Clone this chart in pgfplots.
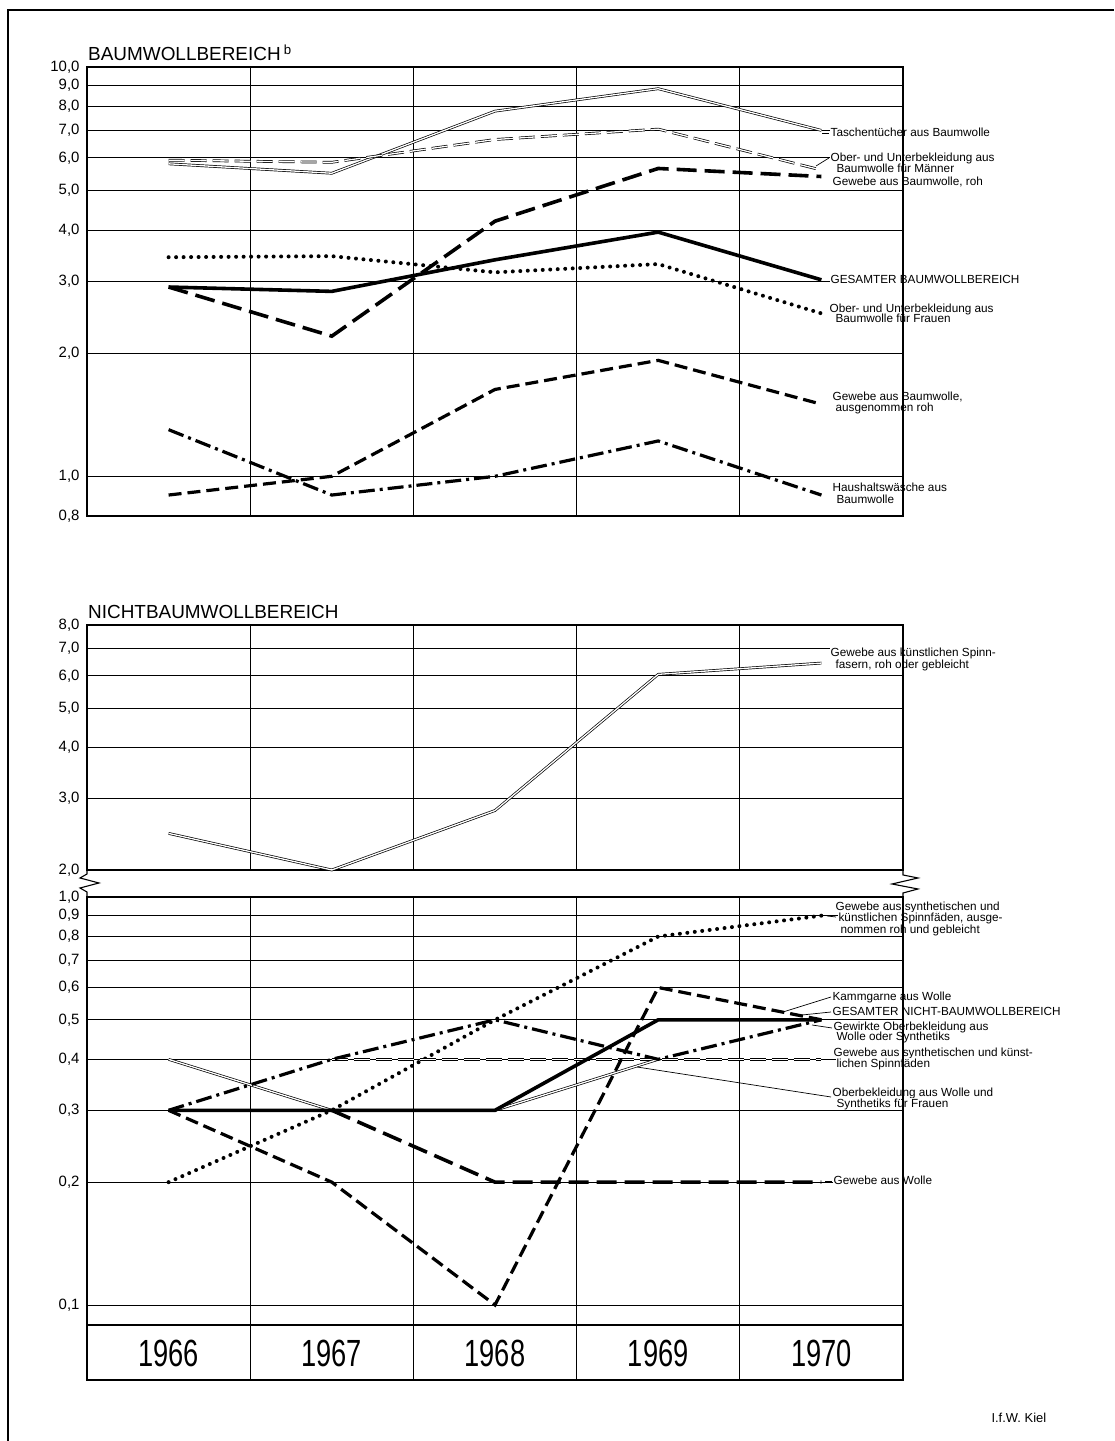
\documentclass[border=0pt]{standalone}
\usepackage{fontspec}
\setmainfont{Liberation Sans}
\usepackage{pgfplots}
\pgfplotsset{compat=1.18}

% common look of the three panels
\pgfplotsset{
  panel/.style={
    anchor=south west, scale only axis, width=816bp, clip=false,
    xmin=1965.5, xmax=1970.5,
    xtick={1966.5,1967.5,1968.5,1969.5}, xticklabels={{},{},{},{}},
    grid=major, major grid style={black, line width=0.7bp},
    major tick length=0pt, minor tick length=0pt,
    axis line style={line width=1.1bp},
    yticklabel style={font=\fontsize{15}{15}\selectfont, xshift=-4bp},
  },
}
\tikzset{
  thicksolid/.style={black, line width=3.6bp},
  longdash/.style={black, line width=3.6bp, dash pattern=on 20bp off 8bp},
  meddash/.style={black, line width=3.2bp, dash pattern=on 13bp off 6bp},
  dashdot/.style={black, line width=3.2bp, dash pattern=on 16bp off 5bp on 3bp off 5bp},
  dots/.style={black, line width=4bp, line cap=round, dash pattern=on 0bp off 7.5bp},
  dbl/.style={draw=black, double=white, double distance=1.3bp, line width=0.7bp},
  dbldash/.style={dbl, dash pattern=on 16bp off 6bp},
  lab/.style={anchor=west, fill=white, inner sep=0.4bp, text height=8.6bp, text depth=2.5bp,
    font=\fontsize{11.8}{11.8}\selectfont},
  lead/.style={line width=0.7bp},
}

\begin{document}
\begin{tikzpicture}[x=1bp,y=1bp]
\useasboundingbox (0,0) rectangle (1114,1441);
\draw[line width=1.5bp] (8,0) -- (8,1431) -- (1114,1431);

% ---------------- Baumwollbereich
\begin{axis}[ymode=log, panel, at={(87bp,925bp)}, height=449bp, ymin=0.8, ymax=10,
  ytick={0.8,1,2,3,4,5,6,7,8,9,10},
  yticklabels={{0,8},{1,0},{2,0},{3,0},{4,0},{5,0},{6,0},{7,0},{8,0},{9,0},{10,0}}]
\addplot[dbl] coordinates {(1966,5.8) (1967,5.5) (1968,7.8) (1969,8.85) (1970,7.0)};
\addplot[dbldash] coordinates {(1966,5.92) (1967,5.85) (1968,6.65) (1969,7.05) (1970,5.6)};
\addplot[longdash] coordinates {(1966,2.9) (1967,2.2) (1968,4.2) (1969,5.65) (1970,5.4)};
\addplot[thicksolid] coordinates {(1966,2.9) (1967,2.83) (1968,3.38) (1969,3.95) (1970,3.02)};
\addplot[dots] coordinates {(1966,3.43) (1967,3.45) (1968,3.15) (1969,3.3) (1970,2.5)};
\addplot[meddash] coordinates {(1966,0.9) (1967,1.0) (1968,1.63) (1969,1.92) (1970,1.5)};
\addplot[dashdot] coordinates {(1966,1.3) (1967,0.9) (1968,1.0) (1969,1.22) (1970,0.9)};
\end{axis}

% ---------------- Nichtbaumwollbereich, upper part
\begin{axis}[ymode=log, panel, at={(87bp,571bp)}, height=245bp, ymin=2, ymax=8,
  ytick={2,3,4,5,6,7,8},
  yticklabels={{2,0},{3,0},{4,0},{5,0},{6,0},{7,0},{8,0}}]
\addplot[dbl] coordinates {(1966,2.46) (1967,2.0) (1968,2.8) (1969,6.05) (1970,6.45)};
\end{axis}

% ---------------- Nichtbaumwollbereich, lower part
\begin{axis}[ymode=log, panel, at={(87bp,116bp)}, height=428bp, ymin=0.0893, ymax=1,
  ytick={0.1,0.2,0.3,0.4,0.5,0.6,0.7,0.8,0.9,1},
  yticklabels={{0,1},{0,2},{0,3},{0,4},{0,5},{0,6},{0,7},{0,8},{0,9},{1,0}}]
\addplot[dots] coordinates {(1966,0.2) (1967,0.3) (1968,0.5) (1969,0.8) (1970,0.9)};
\addplot[dbldash] coordinates {(1967,0.4) (1968,0.4) (1969,0.4) (1970,0.4)};
\addplot[dbl] coordinates {(1966,0.4) (1967,0.3) (1968,0.3) (1969,0.4)};
\addplot[longdash] coordinates {(1967,0.3) (1968,0.2) (1969,0.2) (1970,0.2)};
\addplot[meddash] coordinates {(1966,0.3) (1967,0.2) (1968,0.1) (1969,0.6) (1970,0.5)};
\addplot[dashdot] coordinates {(1966,0.3) (1967,0.4) (1968,0.5) (1969,0.4) (1970,0.5)};
\addplot[thicksolid] coordinates {(1966,0.3) (1967,0.3) (1968,0.3) (1969,0.5) (1970,0.5)};
\end{axis}

% titles
\node[anchor=base west, inner sep=0, font=\fontsize{19}{19}\selectfont] at (88,1380) {BAUMWOLLBEREICH\,\textsuperscript{b}};
\node[anchor=base west, inner sep=0, font=\fontsize{19}{19}\selectfont] at (88,822) {NICHTBAUMWOLLBEREICH};

% series labels, top
\node[lab] at (830,1308) {Taschentücher aus Baumwolle};
\node[lab] at (830,1283) {Ober- und Unterbekleidung aus};
\node[lab] at (836,1272) {Baumwolle für Männer};
\node[lab] at (832,1259) {Gewebe aus Baumwolle, roh};
\node[lab] at (830,1161) {GESAMTER BAUMWOLLBEREICH};
\node[lab] at (829,1132) {Ober- und Unterbekleidung aus};
\node[lab] at (835,1122) {Baumwolle für Frauen};
\node[lab] at (832,1044) {Gewebe aus Baumwolle,};
\node[lab] at (835,1033) {ausgenommen roh};
\node[lab] at (832,953) {Haushaltswäsche aus};
\node[lab] at (836,941) {Baumwolle};

% series labels, bottom
\node[lab] at (830,788) {Gewebe aus künstlichen Spinn-};
\node[lab] at (835,776) {fasern, roh oder gebleicht};
\node[lab] at (835,534) {Gewebe aus synthetischen und};
\node[lab] at (838,523) {künstlichen Spinnfäden, ausge-};
\node[lab] at (840,511) {nommen roh und gebleicht};
\node[lab] at (832,444) {Kammgarne aus Wolle};
\node[lab] at (832,429) {GESAMTER NICHT-BAUMWOLLBEREICH};
\node[lab] at (833,414) {Gewirkte Oberbekleidung aus};
\node[lab] at (836,404) {Wolle oder Synthetiks};
\node[lab] at (833,388) {Gewebe aus synthetischen und künst-};
\node[lab] at (836,377) {lichen Spinnfäden};
\node[lab] at (832,348) {Oberbekleidung aus Wolle und};
\node[lab] at (836,337) {Synthetiks für Frauen};
\node[lab] at (833,260) {Gewebe aus Wolle};

% leader lines
\draw[lead] (822,1308) -- (829,1308);
\draw[lead] (816,1275) -- (829,1283);
\draw[lead] (827,525) -- (836,524);
\draw[lead] (783,429) -- (831,444);
\draw[lead] (802,426) -- (831,429);
\draw[lead] (812,416) -- (832,413);
\draw[lead] (825,382) -- (833,382);
\draw[lead] (637,374) -- (831,344);
\draw[lead] (825,260) -- (832,260);

% right borders run through the labels
\draw[line width=1.1bp] (903,925) -- (903,1374);
\draw[line width=1.1bp] (903,571) -- (903,816);
\draw[line width=1.1bp] (903,116) -- (903,544);

% axis break
\draw[line width=1.1bp] (87,571)--(87,567)--(80,563)--(99,558)--(80,553)--(87,549)--(87,544);
\draw[line width=1.1bp] (903,571)--(903,566)--(918,563)--(892,557)--(918,552)--(903,548)--(903,544);

% year row
\draw[line width=1.1bp] (87,61) rectangle (903,116);
\foreach \k in {1,2,3,4} \draw[line width=0.8bp] ({87+163.2*\k},61) -- ({87+163.2*\k},116);
\foreach \yr [count=\i from 0] in {1966,1967,1968,1969,1970}
  \node[xscale=0.72, font=\fontsize{38}{38}\selectfont] at ({87+163.2*(\i+0.5)},88) {\yr};

\node[anchor=west, font=\fontsize{13}{13}\selectfont] at (988,23) {I.f.W.\ Kiel};
\end{tikzpicture}
\end{document}
